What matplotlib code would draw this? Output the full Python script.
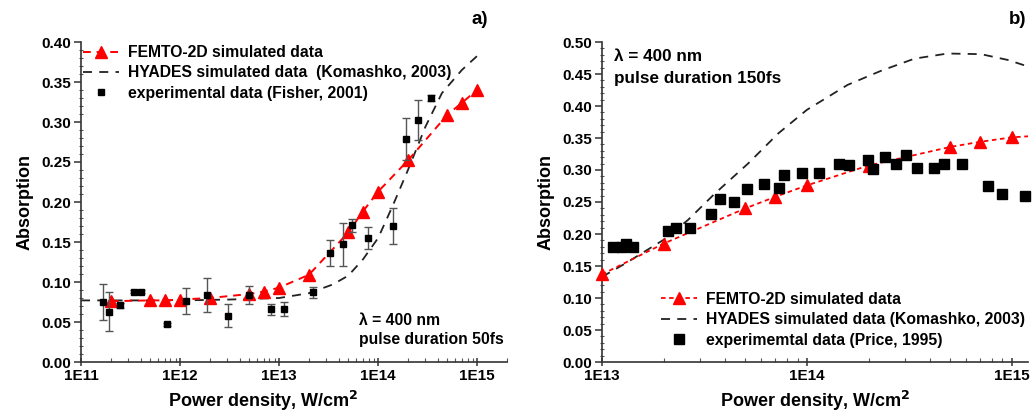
import numpy as np
import matplotlib
matplotlib.use("Agg")
import matplotlib.pyplot as plt
from matplotlib.ticker import FuncFormatter, MultipleLocator, LogLocator, NullFormatter
from matplotlib.lines import Line2D

plt.rcParams['font.family'] = ['Liberation Sans', 'DejaVu Sans']
plt.rcParams['font.weight'] = 'bold'

# ---------------- panel a) data ----------------
a_femto_x = [2e11, 5e11, 7e11, 1e12, 2e12, 5e12, 7e12, 1e13, 2e13, 5e13, 7e13, 1e14, 2e14, 5e14, 7e14, 1e15]
a_femto_y = [0.076, 0.077, 0.077, 0.078, 0.080, 0.085, 0.088, 0.093, 0.109, 0.162, 0.188, 0.213, 0.252, 0.309, 0.324, 0.340]

a_hyades_x = [1e11, 1e12, 3e12, 1e13, 2e13, 3.5e13, 5e13, 7e13, 1e14, 1.4e14, 2e14, 3e14, 4.4e14, 7e14, 1.05e15]
a_hyades_y = [0.077, 0.077, 0.078, 0.080, 0.086, 0.097, 0.108, 0.128, 0.155, 0.195, 0.240, 0.294, 0.336, 0.365, 0.385]

a_exp_x = [1.68e11, 1.9e11, 2.47e11, 3.4e11, 4.0e11, 7.3e11, 1.16e12, 1.85e12, 3.08e12, 4.98e12,
           8.3e12, 1.11e13, 2.2e13, 3.24e13, 4.4e13, 5.48e13, 7.9e13, 1.41e14, 1.92e14, 2.51e14, 3.43e14]
a_exp_y = [0.075, 0.063, 0.071, 0.088, 0.088, 0.047, 0.076, 0.084, 0.058, 0.084,
           0.066, 0.066, 0.087, 0.136, 0.147, 0.171, 0.155, 0.170, 0.279, 0.303, 0.330]
a_exp_err = [0.022, 0.024, 0.003, 0.002, 0.002, 0.002, 0.016, 0.021, 0.014, 0.011,
             0.007, 0.009, 0.007, 0.016, 0.027, 0.008, 0.014, 0.022, 0.026, 0.025, 0.004]

# ---------------- panel b) data ----------------
b_femto_x = [1e13, 2e13, 5e13, 7e13, 1e14, 2e14, 5e14, 7e14, 1e15]
b_femto_y = [0.137, 0.185, 0.240, 0.258, 0.276, 0.307, 0.336, 0.344, 0.351]
b_femto_line_x = [1e13, 2e13, 5e13, 7e13, 1e14, 2e14, 5e14, 7e14, 1e15, 1.25e15]
b_femto_line_y = [0.137, 0.185, 0.240, 0.258, 0.276, 0.307, 0.336, 0.344, 0.351, 0.353]

b_hyades_x = [1e13, 1.3e13, 2e13, 2.63e13, 3.55e13, 5.16e13, 7.24e13, 1e14, 1.58e14, 2.3e14, 3.35e14, 4.86e14, 7.08e14, 9.55e14, 1.22e15]
b_hyades_y = [0.133, 0.154, 0.191, 0.222, 0.263, 0.310, 0.357, 0.394, 0.433, 0.455, 0.474, 0.482, 0.481, 0.472, 0.461]

b_exp_x = [1.127e13, 1.25e13, 1.31e13, 1.42e13, 2.1e13, 2.31e13, 2.68e13, 3.42e13, 3.76e13, 4.41e13,
           5.11e13, 6.18e13, 7.31e13, 7.71e13, 9.47e13, 1.15e14, 1.44e14, 1.61e14, 1.98e14, 2.11e14,
           2.41e14, 2.71e14, 3.03e14, 3.44e14, 4.19e14, 4.69e14, 5.71e14, 7.62e14, 9.0e14, 1.16e15]
b_exp_y = [0.180, 0.180, 0.185, 0.180, 0.204, 0.210, 0.210, 0.231, 0.254, 0.250,
           0.271, 0.278, 0.272, 0.292, 0.295, 0.295, 0.309, 0.308, 0.315, 0.301,
           0.320, 0.310, 0.323, 0.303, 0.303, 0.310, 0.309, 0.275, 0.263, 0.259]

RED = '#ff0000'
W, H = 1033, 412
fig = plt.figure(figsize=(W / 100, H / 100), dpi=100)
fig.patch.set_facecolor('white')

def px_axes(l, r, b, t):
    return fig.add_axes([l / W, (H - b) / H, (r - l) / W, (b - t) / H])

axA = px_axes(81, 507, 362, 42)
axB = px_axes(602, 1028, 362, 42)

def style(ax, xlim, ylim, ymaj, xlabel_x):
    ax.set_xscale('log')
    ax.set_xlim(*xlim)
    ax.set_ylim(*ylim)
    for s in ['top', 'right']:
        ax.spines[s].set_visible(False)
    for s in ['left', 'bottom']:
        ax.spines[s].set_linewidth(1.2)
        ax.spines[s].set_color('#333333')
    ax.yaxis.set_major_locator(MultipleLocator(ymaj))
    ax.yaxis.set_minor_locator(MultipleLocator(0.01))
    ax.yaxis.set_major_formatter(FuncFormatter(lambda v, p: f"{v:.2f}"))
    ax.xaxis.set_major_locator(LogLocator(base=10, numticks=20))
    ax.xaxis.set_minor_locator(LogLocator(base=10, subs=np.arange(2, 10), numticks=20))
    ax.xaxis.set_minor_formatter(NullFormatter())
    ax.xaxis.set_major_formatter(FuncFormatter(lambda v, p: f"1E{int(round(np.log10(v)))}"))
    ax.tick_params(axis='both', which='major', labelsize=11, width=1.1, color='#333333', pad=2)
    ax.tick_params(axis='y', which='major', direction='out', length=5)
    ax.tick_params(axis='y', which='minor', direction='inout', length=3, width=0.8, color='#555555')
    ax.tick_params(axis='x', which='major', direction='inout', length=6)
    ax.tick_params(axis='x', which='minor', direction='in', length=3, width=0.8, color='#555555')
    for lab in ax.get_xticklabels() + ax.get_yticklabels():
        lab.set_fontweight('bold')
    ax.set_xlabel('Power density, W/cm$^\\mathbf{2}$', fontsize=13, fontweight='bold')
    ax.xaxis.set_label_coords(xlabel_x, -0.085)
    ax.set_ylabel('Absorption', fontsize=13, fontweight='bold', labelpad=6)

# ---------------- panel a ----------------
style(axA, (1e11, 2.0e15), (0, 0.40), 0.05, 0.427)
axA.plot(a_femto_x, a_femto_y, color=RED, linestyle=(0, (4, 3)), linewidth=1.4,
         marker='^', markersize=8, markeredgecolor=RED, markerfacecolor=RED, zorder=3)
axA.plot(a_hyades_x, a_hyades_y, color='#222222', linestyle=(0, (5, 4)), linewidth=1.3, zorder=2)
axA.errorbar(a_exp_x, a_exp_y, yerr=a_exp_err, fmt='s', color='black', markersize=4.5,
             ecolor='#555555', elinewidth=1.0, capsize=3, capthick=1.0, zorder=4)
hA = [Line2D([], [], color=RED, linestyle=(0, (4, 3)), linewidth=1.4, marker='^', markersize=8,
             markerfacecolor=RED, markeredgecolor=RED),
      Line2D([], [], color='#222222', linestyle=(0, (5, 4)), linewidth=1.3),
      Line2D([], [], color='black', linestyle='none', marker='s', markersize=4.5)]
lA = ['FEMTO-2D simulated data', 'HYADES simulated data  (Komashko, 2003)', 'experimental data (Fisher, 2001)']
axA.legend(hA, lA, loc='upper left', bbox_to_anchor=(0.005, 0.99), frameon=False,
           handlelength=2.3, handletextpad=0.55, borderpad=0,
           borderaxespad=0, labelspacing=0.33, prop={'weight': 'bold', 'size': 11.3})
axA.text(0.653, 0.131, 'λ = 400 nm', transform=axA.transAxes, fontsize=11.3,
         fontweight='bold', va='center', ha='left')
axA.text(0.653, 0.069, 'pulse duration 50fs', transform=axA.transAxes, fontsize=11.3,
         fontweight='bold', va='center', ha='left')
fig.text(480 / W, (H - 20) / H, 'a)', fontsize=13.5, fontweight='bold', ha='center', va='center')

# ---------------- panel b ----------------
style(axB, (1e13, 1.2e15), (0, 0.50), 0.05, 0.5)
axB.plot(b_femto_line_x, b_femto_line_y, color=RED, linestyle=(0, (2.5, 2)), linewidth=1.3, zorder=3)
axB.plot(b_femto_x, b_femto_y, linestyle='none', marker='^', markersize=8,
         markeredgecolor=RED, markerfacecolor=RED, zorder=3, clip_on=False)
axB.plot(b_hyades_x, b_hyades_y, color='#222222', linestyle=(0, (5, 4)), linewidth=1.3, zorder=2)
axB.plot(b_exp_x, b_exp_y, linestyle='none', marker='s', markersize=6.5, color='black', zorder=4,
         clip_on=False)

hB = [Line2D([], [], color=RED, linestyle=(0, (2.5, 2)), linewidth=1.3, marker='^', markersize=8,
             markerfacecolor=RED, markeredgecolor=RED),
      Line2D([], [], color='#222222', linestyle=(0, (5, 4)), linewidth=1.3),
      Line2D([], [], color='black', linestyle='none', marker='s', markersize=6.5)]
lB = ['FEMTO-2D simulated data', 'HYADES simulated data (Komashko, 2003)', 'experimemtal data (Price, 1995)']
axB.legend(hB, lB, loc='upper left', bbox_to_anchor=(0.138, 0.22), frameon=False,
           handlelength=2.3, handletextpad=0.55, borderpad=0, borderaxespad=0, labelspacing=0.35,
           prop={'weight': 'bold', 'size': 11.3})
axB.text(0.028, 0.955, 'λ = 400 nm', transform=axB.transAxes, fontsize=12.3,
         fontweight='bold', va='center', ha='left')
axB.text(0.028, 0.887, 'pulse duration 150fs', transform=axB.transAxes, fontsize=12.3,
         fontweight='bold', va='center', ha='left')
fig.text(1018 / W, (H - 20) / H, 'b)', fontsize=13.5, fontweight='bold', ha='center', va='center')

fig.savefig('out.png', dpi=100, facecolor='white')
